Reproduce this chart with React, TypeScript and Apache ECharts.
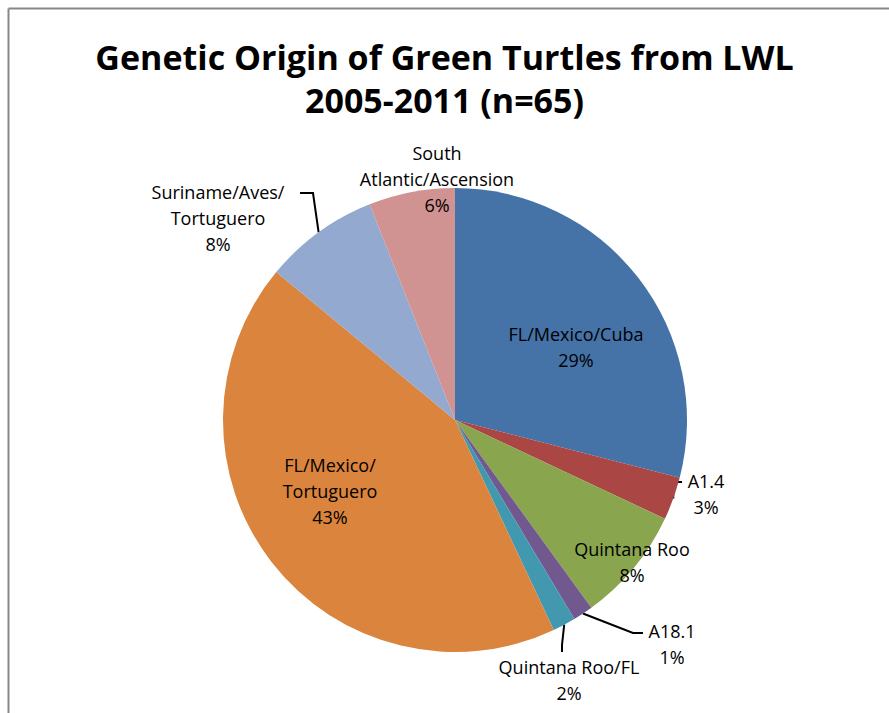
import React, { useEffect, useRef } from "react";
import * as echarts from "echarts";

const TITLE = "Genetic Origin of Green Turtles from LWL\n2005-2011 (n=65)";
const CATEGORIES = [
  "FL/Mexico/Cuba",
  "A1.4",
  "Quintana Roo",
  "A18.1",
  "Quintana Roo/FL",
  "FL/Mexico/\nTortuguero",
  "Suriname/Aves/\nTortuguero",
  "South\nAtlantic/Ascension",
];
const VALUES = [29, 3, 8, 1.4, 1.6, 43, 8, 6];
const COLORS = ["#4572A7", "#AA4643", "#89A54E", "#71588F", "#4198AF", "#DB843D", "#93A9CF", "#D19392"];

// label placement (style only): center of label block and leader line bends
const LABEL_POS: { x: number; y: number; line?: number[][] }[] = [
  { x: 576, y: 347 },
  { x: 706, y: 494, line: [[673, 482], [682, 482]] },
  { x: 632, y: 562 },
  { x: 672, y: 644, line: [[633, 633], [643, 633]] },
  { x: 569, y: 680, line: [[562, 645], [562, 652]] },
  { x: 330, y: 491 },
  { x: 218, y: 218, line: [[313, 193], [300, 193]] },
  { x: 437, y: 179 },
];

export default function App() {
  const ref = useRef<HTMLDivElement>(null);
  useEffect(() => {
    if (!ref.current) return;
    const chart = echarts.init(ref.current, null, { renderer: "svg" });
    const font = "'Open Sans', 'Noto Sans', sans-serif";
    chart.setOption({
      animation: false,
      backgroundColor: "#ffffff",
      title: {
        text: TITLE,
        left: "center",
        top: 30,
        textStyle: {
          fontFamily: font,
          fontSize: 34,
          fontWeight: "bold",
          color: "#000",
          lineHeight: 43,
        },
      },
      graphic: [
        { type: "line", shape: { x1: 8.5, y1: 8.5, x2: 889, y2: 8.5 }, style: { stroke: "#878787", lineWidth: 2 } },
        { type: "line", shape: { x1: 8.5, y1: 8.5, x2: 8.5, y2: 713 }, style: { stroke: "#878787", lineWidth: 2 } },
      ],
      series: [
        {
          type: "pie",
          center: [455, 420],
          radius: 232,
          startAngle: 90,
          clockwise: true,
          percentPrecision: 0,
          avoidLabelOverlap: false,
          itemStyle: { borderWidth: 0 },
          emphasis: { disabled: true },
          data: CATEGORIES.map((name, i) => ({
            name,
            value: VALUES[i],
            itemStyle: { color: COLORS[i] },
            label: { position: LABEL_POS[i].line ? "outside" : "inside" },
            labelLine: { show: !!LABEL_POS[i].line },
          })),
          label: {
            formatter: "{b}\n{d}%",
            fontFamily: font,
            fontSize: 18,
            lineHeight: 26,
            color: "#000",
            align: "center",
          },
          labelLine: { lineStyle: { color: "#000", width: 2 }, length: 10, length2: 10 },
          labelLayout: (params: any) => {
            const p = LABEL_POS[params.dataIndex];
            const out: any = {
              x: p.x,
              y: p.y,
              align: "center",
              verticalAlign: "middle",
            };
            if (p.line && params.labelLinePoints) {
              const start = params.labelLinePoints[0];
              out.labelLinePoints = [start, p.line[0], p.line[1]];
            }
            return out;
          },
        },
      ],
    });
    return () => chart.dispose();
  }, []);
  return (
    <div
      ref={ref}
      style={{ position: "fixed", left: 0, top: 0, width: 889, height: 713 }}
    />
  );
}
